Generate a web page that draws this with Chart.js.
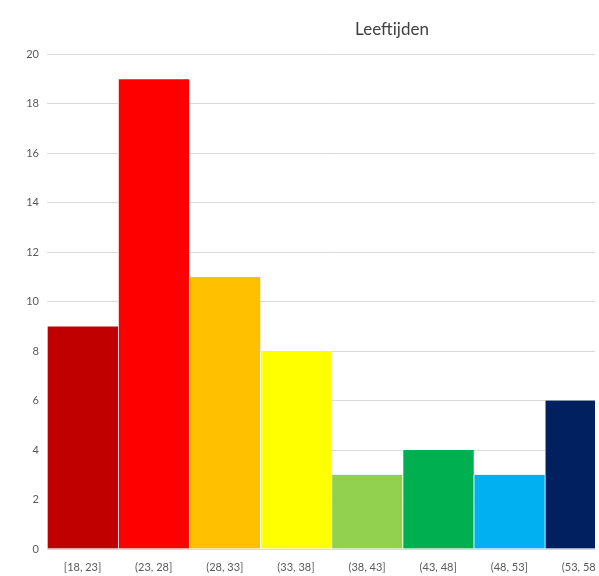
<!DOCTYPE html>
<html>
<head>
<meta charset="utf-8">
<style>
  html, body { margin: 0; padding: 0; background: #fff; overflow: hidden; }
  #clip { width: 595px; height: 576px; overflow: hidden; }
  #wrap { position: relative; width: 814px; height: 576px; }
</style>
<script src="https://cdn.jsdelivr.net/npm/chart.js@4/dist/chart.umd.min.js"></script>
</head>
<body>
<div id="clip"><div id="wrap"><canvas id="c"></canvas></div></div>
<script>
// Age brackets and how many people fall in each
const categories = ['[18, 23]', '(23, 28]', '(28, 33]', '(33, 38]', '(38, 43]', '(43, 48]', '(48, 53]', '(53, 58]'];
const counts = [9, 19, 11, 8, 3, 4, 3, 6];
const barColors = ['#C00000', '#FF0000', '#FFC000', '#FFFF00', '#92D050', '#00B050', '#00B0F0', '#002060'];
const yTicks = [0, 2, 4, 6, 8, 10, 12, 14, 16, 18, 20];

const FONT = 'Lato, "Open Sans", sans-serif';

// Widen the title box past the padded area so it centres on the whole figure
const wideTitle = {
  id: 'wideTitle',
  afterLayout(chart) {
    const t = chart.titleBlock;
    if (t) { t.left = 0; t.right = 784; t.width = 784; }
  }
};

new Chart(document.getElementById('c'), {
  type: 'bar',
  data: {
    labels: categories,
    datasets: [{
      data: counts,
      backgroundColor: barColors,
      borderColor: '#ffffff',
      borderWidth: { left: 1, right: 0, top: 0, bottom: 0 },
      barPercentage: 1,
      categoryPercentage: 1
    }]
  },
  plugins: [wideTitle],
  options: {
    responsive: true,
    maintainAspectRatio: false,
    animation: false,
    layout: { padding: { left: 0, right: 198, top: 0, bottom: 0 } },
    plugins: {
      legend: { display: false },
      tooltip: { enabled: false },
      title: {
        display: true,
        text: 'Leeftijden',
        color: '#404040',
        font: { family: FONT, size: 17, weight: 'normal' },
        padding: { top: 19, bottom: 15 }
      }
    },
    scales: {
      x: {
        grid: { display: false },
        border: { display: false },
        ticks: {
          color: '#595959',
          font: { family: FONT, size: 11 },
          maxRotation: 0,
          autoSkip: false,
          padding: 4
        },
        afterFit(scale) { scale.height = 27; }
      },
      y: {
        min: 0,
        max: 20,
        afterBuildTicks(scale) { scale.ticks = yTicks.map(v => ({ value: v })); },
        grid: { color: '#d9d9d9', lineWidth: 1, drawTicks: false },
        border: { display: false },
        ticks: {
          color: '#595959',
          font: { family: FONT, size: 11 },
          padding: 8
        },
        afterFit(scale) { scale.width = 47; }
      }
    }
  }
});
</script>
</body>
</html>
